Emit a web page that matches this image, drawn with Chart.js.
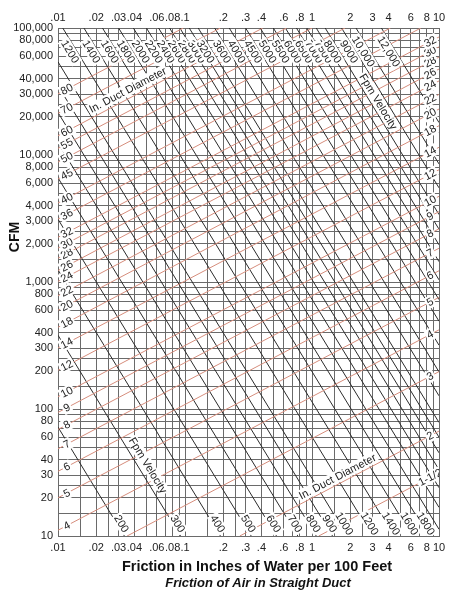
<!DOCTYPE html>
<html>
<head>
<meta charset="utf-8">
<script src="https://cdn.jsdelivr.net/npm/chart.js@4.4.1/dist/chart.umd.min.js"></script>
<style>
  html, body { margin: 0; padding: 0; background: #fff; }
  canvas { display: block; }
</style>
</head>
<body>
<canvas id="ductChart" width="451" height="592"></canvas>
<script>
// axis labels
const frictionTicks = [0.01, 0.02, 0.03, 0.04, 0.06, 0.08, 0.1, 0.2, 0.3, 0.4, 0.6, 0.8, 1, 2, 3, 4, 6, 8, 10];
const cfmTicks = [10, 20, 30, 40, 60, 80, 100, 200, 300, 400, 600, 800, 1000, 2000, 3000, 4000, 6000, 8000,
  10000, 20000, 30000, 40000, 60000, 80000, 100000];
const gridSteps = [1, 1.5, 2, 2.5, 3, 4, 5, 6, 7, 8, 9];

// duct diameter lines (red) - friction / cfm at both ends
const ductLabels = ['1-1/2', '2', '3', '4', '5', '6', '7', '8', '9', '10', '12', '14', '18', '20', '22', '24',
  '26', '28', '30', '32', '36', '40', '45', '50', '55', '60', '70', '80'];
const ductStartFriction = [1.13, 0.27, 0.035, 0.01, 0.01, 0.01, 0.01, 0.01, 0.01, 0.01, 0.01, 0.01, 0.01, 0.01,
  0.01, 0.01, 0.01, 0.01, 0.01, 0.01, 0.01, 0.01, 0.01, 0.01, 0.01, 0.01, 0.01, 0.01];
const ductStartCfm = [10, 10, 10, 11.1, 20, 32.3, 48.6, 69, 94, 125, 202, 303, 440, 600, 780, 1010, 1230, 1540,
  1850, 2250, 3130, 4190, 6470, 8800, 11270, 14180, 21310, 30320];
const ductEndFriction = [10, 10, 10, 10, 10, 10, 10, 10, 10, 10, 10, 10, 10, 10, 10, 10, 10, 10, 10,
  10, 7.2, 4.15, 1.82, 1.0, 0.63, 0.41, 0.19, 0.097];
const ductEndCfm = [31.5, 67, 197, 420, 757, 1226, 1843, 2622, 3580, 4730, 7650, 11500, 17000, 23000, 30000,
  38300, 47500, 59000, 71000, 85000, 100000, 100000, 100000, 100000, 100000, 100000, 100000, 100000];

// velocity lines (black)
const fpmLabels = ['200', '300', '400', '500', '600', '700', '800', '900', '1000', '1200', '1400', '1600', '1800',
  '2000', '2200', '2400', '2600', '2800', '3000', '3200', '3600', '4000', '4500', '5000', '5500', '6000', '6500',
  '7000', '7500', '8000', '9000', '10,000', '12,000'];
const fpmStartFriction = [0.01, 0.01, 0.01, 0.01, 0.01, 0.01, 0.01, 0.01, 0.01, 0.0109, 0.016, 0.0224, 0.030,
  0.0392, 0.0497, 0.0619, 0.0756, 0.0911, 0.108, 0.127, 0.171, 0.223, 0.300, 0.391, 0.496, 0.617, 0.754, 0.909,
  1.08, 1.27, 1.71, 2.22, 3.52];
const fpmStartCfm = [72, 381, 1246, 3121, 6612, 12460, 21600, 35060, 54100, 100000, 100000, 100000, 100000,
  100000, 100000, 100000, 100000, 100000, 100000, 100000, 100000, 100000, 100000, 100000, 100000, 100000, 100000,
  100000, 100000, 100000, 100000, 100000, 100000];
const fpmEndFriction = [0.0333, 0.0922, 0.19, 0.332, 0.525, 0.773, 1.08, 1.45, 1.89, 2.99, 4.41, 6.16, 8.28,
  10, 10, 10, 10, 10, 10, 10, 10, 10, 10, 10, 10, 10, 10, 10, 10, 10, 10, 10, 10];
const fpmEndCfm = [10, 10, 10, 10, 10, 10, 10, 10, 10, 10, 10, 10, 10, 11.3, 16.8, 24, 33.3, 45.2, 60, 78.3,
  127, 196, 318, 491, 727, 1040, 1446, 1961, 2604, 3398, 5514, 8506, 18010];

const FONT = "'Liberation Sans', Arial, Helvetica, sans-serif";
const RED = '#d68d7c';
const DARK = '#2b2b2b';
const GRID = '#6a6a6a';

function gridValues(lo, hi) {
  const out = [];
  for (let d = lo; d < hi * 0.999; d *= 10) {
    gridSteps.forEach(m => out.push(Number((d * m).toPrecision(6))));
  }
  out.push(hi);
  return out;
}

function isLabeled(list, v) {
  return list.some(t => Math.abs(t - v) / t < 1e-6);
}

function fmtFriction(v) {
  if (v >= 1) return String(v);
  return String(v).replace(/^0/, '');
}

const datasets = [];
ductLabels.forEach((lab, i) => {
  datasets.push({
    label: lab + ' in.',
    data: [{ x: ductStartFriction[i], y: ductStartCfm[i] }, { x: ductEndFriction[i], y: ductEndCfm[i] }],
    borderColor: RED,
    borderWidth: 1,
    showLine: true,
    pointRadius: 0
  });
});
fpmLabels.forEach((lab, i) => {
  datasets.push({
    label: lab + ' fpm',
    data: [{ x: fpmStartFriction[i], y: fpmStartCfm[i] }, { x: fpmEndFriction[i], y: fpmEndCfm[i] }],
    borderColor: DARK,
    borderWidth: 1,
    showLine: true,
    pointRadius: 0
  });
});

// which line gets which label
const labelSpecs = [];
ductLabels.forEach((lab, i) => {
  if (ductStartFriction[i] === 0.01) labelSpecs.push({ ds: i, text: lab, atEnd: false, dist: 10, off: 0 });
  if (ductEndFriction[i] >= 9) labelSpecs.push({ ds: i, text: lab, atEnd: true, dist: 10, off: 0 });
});
const nDuct = ductLabels.length;
fpmLabels.forEach((lab, i) => {
  if (fpmStartCfm[i] === 100000) labelSpecs.push({ ds: nDuct + i, text: lab, atEnd: false, dist: 24, off: -6 });
  if (fpmEndCfm[i] === 10) labelSpecs.push({ ds: nDuct + i, text: lab, atEnd: true, dist: 12, off: 4 });
});
labelSpecs.push({ ds: ductLabels.indexOf('60'), text: 'In. Duct Diameter', atEnd: false, dist: 83, off: 8 });
labelSpecs.push({ ds: ductLabels.indexOf('2'), text: 'In. Duct Diameter', atEnd: false, dist: 114, off: 7 });
labelSpecs.push({ ds: nDuct + fpmLabels.indexOf('300'), text: 'Fpm Velocity', atEnd: false, dist: 158, off: 9 });
labelSpecs.push({ ds: nDuct + fpmLabels.indexOf('9000'), text: 'Fpm Velocity', atEnd: false, dist: 82, off: -7 });

const lineLabels = {
  id: 'lineLabels',
  afterDatasetsDraw(chart) {
    const { ctx, chartArea: a } = chart;
    const sx = chart.scales.x, sy = chart.scales.y;
    ctx.save();
    ctx.beginPath();
    ctx.rect(a.left, a.top, a.right - a.left, a.bottom - a.top);
    ctx.clip();
    ctx.font = '11px ' + FONT;
    ctx.textAlign = 'center';
    ctx.textBaseline = 'middle';
    labelSpecs.forEach(s => {
      const pts = chart.data.datasets[s.ds].data;
      const x0 = sx.getPixelForValue(pts[0].x), y0 = sy.getPixelForValue(pts[0].y);
      const x1 = sx.getPixelForValue(pts[1].x), y1 = sy.getPixelForValue(pts[1].y);
      const len = Math.hypot(x1 - x0, y1 - y0);
      const ux = (x1 - x0) / len, uy = (y1 - y0) / len;
      let bx = s.atEnd ? x1 - ux * s.dist : x0 + ux * s.dist;
      let by = s.atEnd ? y1 - uy * s.dist : y0 + uy * s.dist;
      bx += uy * s.off;
      by -= ux * s.off;
      const w = ctx.measureText(s.text).width;
      ctx.save();
      ctx.translate(bx, by);
      ctx.rotate(Math.atan2(uy, ux));
      ctx.fillStyle = '#fff';
      ctx.fillRect(-w / 2 - 1.5, -6, w + 3, 12);
      ctx.fillStyle = '#222';
      ctx.fillText(s.text, 0, 0.5);
      ctx.restore();
    });
    ctx.restore();
  }
};

const titles = {
  id: 'titles',
  afterDraw(chart) {
    const ctx = chart.ctx;
    ctx.save();
    ctx.fillStyle = '#111';
    ctx.textAlign = 'center';
    ctx.textBaseline = 'middle';
    ctx.font = 'bold 14.5px ' + FONT;
    ctx.fillText('Friction in Inches of Water per 100 Feet', 257, 567);
    ctx.font = 'italic bold 13px ' + FONT;
    ctx.fillText('Friction of Air in Straight Duct', 258, 583);
    ctx.translate(15, 237);
    ctx.rotate(-Math.PI / 2);
    ctx.font = 'bold 14px ' + FONT;
    ctx.fillText('CFM', 0, 0);
    ctx.restore();
  }
};

function xAxis(pos, showGrid, height, pad) {
  return {
    type: 'logarithmic',
    position: pos,
    min: 0.01,
    max: 10,
    afterBuildTicks: axis => { axis.ticks = gridValues(0.01, 10).map(v => ({ value: v })); },
    afterFit: axis => { axis.height = height; },
    grid: { display: showGrid, color: GRID, lineWidth: 1, drawTicks: false },
    border: { display: true, color: GRID, width: 1 },
    ticks: {
      autoSkip: false,
      maxRotation: 0,
      padding: pad,
      color: '#222',
      font: { family: FONT, size: 11 },
      callback: v => isLabeled(frictionTicks, v) ? fmtFriction(v) : ''
    }
  };
}

new Chart(document.getElementById('ductChart'), {
  type: 'scatter',
  data: { datasets: datasets },
  options: {
    responsive: false,
    animation: false,
    layout: { padding: { top: 0, right: 12, bottom: 0, left: 0 } },
    plugins: { legend: { display: false }, tooltip: { enabled: false } },
    scales: {
      x: xAxis('bottom', true, 56, 5),
      x2: xAxis('top', false, 28, 3),
      y: {
        type: 'logarithmic',
        min: 10,
        max: 100000,
        afterBuildTicks: axis => { axis.ticks = gridValues(10, 100000).map(v => ({ value: v })); },
        afterFit: axis => { axis.width = 58; },
        grid: { color: GRID, lineWidth: 1, drawTicks: false },
        border: { display: true, color: GRID, width: 1 },
        ticks: {
          autoSkip: false,
          padding: 5,
          color: '#222',
          font: { family: FONT, size: 11 },
          callback: v => isLabeled(cfmTicks, v) ? v.toLocaleString('en-US') : ''
        }
      }
    }
  },
  plugins: [lineLabels, titles]
});
</script>
</body>
</html>
